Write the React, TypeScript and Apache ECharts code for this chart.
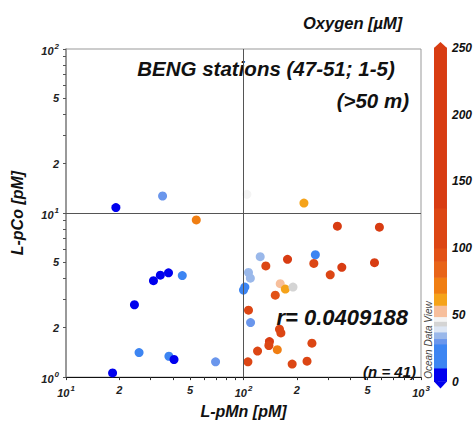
import React, { useEffect, useRef } from 'react';
import * as echarts from 'echarts';

// L-pMn [pM], L-pCo [pM], Oxygen [µM] per sample
const lpMn = [19.1, 35.0, 54.2, 31.1, 34.0, 37.8, 45.2, 24.3, 25.8, 38.0, 40.6, 69.6, 18.3,
  104.5, 124.2, 106.7, 109.3, 101.8, 100.0, 106.7, 109.6, 120, 105.9,
  338, 583, 254, 177, 133.6, 249, 358, 547, 308, 161, 172, 190, 151,
  159.5, 162.4, 140, 139, 243, 155, 228, 188, 219];
const lpCo = [10.8, 12.7, 9.08, 3.87, 4.18, 4.32, 4.16, 2.76, 1.41, 1.34, 1.28, 1.24, 1.06,
  13.0, 5.42, 4.34, 4.01, 3.54, 3.39, 2.56, 2.15, 1.44, 1.24,
  8.32, 8.2, 5.57, 5.22, 4.76, 4.93, 4.67, 4.98, 4.20, 3.71, 3.44, 3.54, 3.16,
  1.96, 1.86, 1.646, 1.556, 1.61, 1.47, 1.25, 1.20, 11.5];
const oxygen = [5, 30, 70, 4, 6, 3, 20, 5, 22, 21, 7, 30, 2,
  46, 34, 35, 33, 18, 16, 120, 29, 110, 105,
  150, 140, 26, 130, 115, 125, 140, 135, 120, 52, 62, 43, 95,
  110, 120, 130, 115, 125, 68, 110, 120, 60];

// Oxygen colour scale (ODV-like)
const o2Edges = [0, 10, 28, 32, 37, 41.5, 45, 48.5, 57, 66, 78, 90, 100, 130, 250];
const o2Colors = ['#0000ee', '#3d85f2', '#6a96ec', '#9ab8ea', '#dde6f4', '#d4d4d4', '#f4f4f4',
  '#f7bf9c', '#f5a31a', '#f07e12', '#e86418', '#e25216', '#dc4614', '#d83c12'];
const o2Ticks = [0, 50, 100, 150, 200, 250];

// log axes: decades and minor multipliers
const xDecades = [1, 2, 3];
const yDecades = [0, 1, 2];
const labelMultipliers = [1, 2, 5];
const tickMultipliers = [1, 2, 3, 4, 5, 6, 7, 8, 9];
const crossMn = 100;
const crossCo = 10;

const FONT = 'Liberation Sans, Arial, sans-serif';

function logValues(decades: number[], mults: number[]) {
  const out: number[] = [];
  const maxD = decades[decades.length - 1];
  decades.forEach((d) => {
    mults.forEach((m) => {
      const v = d + Math.log10(m);
      if (v <= maxD + 1e-9) out.push(v);
    });
  });
  return out;
}

function logFormatter(v: number) {
  const d = Math.floor(v + 1e-6);
  const m = Math.round(Math.pow(10, v - d));
  if (m === 1) return '{b|10}{s|' + d + '}';
  return '{b|' + m + '}';
}

const rich = {
  b: { fontSize: 11, fontWeight: 'bold', fontStyle: 'italic', color: '#222', fontFamily: FONT, verticalAlign: 'bottom' },
  s: { fontSize: 8, fontWeight: 'bold', fontStyle: 'italic', color: '#222', fontFamily: FONT, verticalAlign: 'bottom', padding: [0, 0, 6, 1] },
};

export default function App() {
  const ref = useRef<HTMLDivElement>(null);
  useEffect(() => {
    document.body.style.margin = '0';
    const chart = echarts.init(ref.current!, null, { renderer: 'svg' });
    const pts = lpMn.map((x, i) => [Math.log10(x), Math.log10(lpCo[i]), oxygen[i]]);
    const bands = o2Colors.map((c, i) => [o2Edges[i], o2Edges[i + 1], i]);
    const pieces = o2Colors.map((c, i) => (i === o2Colors.length - 1
      ? { gte: o2Edges[i], lte: o2Edges[i + 1], color: c }
      : { gte: o2Edges[i], lt: o2Edges[i + 1], color: c }));

    const textStyle = (size: number, weight = 'bold') => ({
      fontFamily: FONT, fontSize: size, fontWeight: weight, fontStyle: 'italic', fill: '#111',
    });

    chart.setOption({
      animation: false,
      backgroundColor: '#fff',
      grid: [
        { left: 66, top: 49, right: 54, bottom: 42, show: true, borderColor: '#999', borderWidth: 1 },
        { left: 434, top: 48, width: 15, bottom: 42.5 },
      ],
      xAxis: [
        {
          type: 'value', gridIndex: 0, min: 1, max: 3,
          axisLine: { show: true, onZero: false, lineStyle: { color: '#111', width: 1 } },
          axisTick: { show: true, customValues: logValues(xDecades, tickMultipliers), length: 3, lineStyle: { color: '#333' } },
          axisLabel: { customValues: logValues(xDecades, labelMultipliers), formatter: logFormatter, rich, margin: 7 },
          splitLine: { show: false },
          name: 'L-pMn [pM]', nameLocation: 'middle', nameGap: 25,
          nameTextStyle: { fontFamily: FONT, fontSize: 16, fontWeight: 'bold', fontStyle: 'italic', color: '#111' },
        },
        { type: 'value', gridIndex: 1, min: 0, max: 1, show: false },
      ],
      yAxis: [
        {
          type: 'value', gridIndex: 0, min: 0, max: 2,
          axisLine: { show: true, onZero: false, lineStyle: { color: '#888', width: 1.5 } },
          axisTick: { show: true, customValues: logValues(yDecades, tickMultipliers), length: 3, lineStyle: { color: '#555' } },
          axisLabel: { customValues: logValues(yDecades, labelMultipliers), formatter: logFormatter, rich, margin: 7 },
          splitLine: { show: false },
          name: 'L-pCo [pM]', nameLocation: 'middle', nameGap: 41, nameRotate: 90,
          nameTextStyle: { fontFamily: FONT, fontSize: 16, fontWeight: 'bold', fontStyle: 'italic', color: '#111' },
        },
        {
          type: 'value', gridIndex: 1, min: 0, max: 250, interval: 50, position: 'right',
          axisLine: { show: false },
          axisTick: { show: true, length: 4, lineStyle: { color: '#333' } },
          axisLabel: { margin: 5, fontFamily: FONT, fontSize: 12, fontWeight: 'bold', fontStyle: 'italic', color: '#111',
            customValues: o2Ticks },
          splitLine: { show: false },
        },
      ],
      visualMap: {
        type: 'piecewise', show: false, seriesIndex: 0, dimension: 2, pieces,
      },
      series: [
        {
          type: 'scatter', xAxisIndex: 0, yAxisIndex: 0, data: pts, symbolSize: 9,
          itemStyle: { opacity: 1 },
          markLine: {
            silent: true, symbol: 'none', label: { show: false },
            lineStyle: { color: '#555', width: 1, type: 'solid' },
            data: [{ xAxis: Math.log10(crossMn) }, { yAxis: Math.log10(crossCo) }],
          },
          z: 3,
        },
        {
          type: 'custom', xAxisIndex: 1, yAxisIndex: 1, data: bands, clip: false,
          renderItem: (params: any, api: any) => {
            const lo = api.value(0);
            const hi = api.value(1);
            const i = api.value(2);
            const p0 = api.coord([0, lo]);
            const p1 = api.coord([1, hi]);
            const color = o2Colors[i];
            const children: any[] = [{
              type: 'rect',
              shape: { x: p0[0], y: p1[1] - 0.3, width: p1[0] - p0[0], height: p0[1] - p1[1] + 0.6 },
              style: { fill: color },
            }];
            const mid = (p0[0] + p1[0]) / 2;
            if (i === 0) {
              children.push({ type: 'polygon', shape: { points: [[p0[0], p0[1]], [p1[0], p0[1]], [mid, p0[1] + 7]] }, style: { fill: color } });
            }
            if (i === o2Colors.length - 1) {
              children.push({ type: 'polygon', shape: { points: [[p0[0], p1[1]], [p1[0], p1[1]], [mid, p1[1] - 6]] }, style: { fill: color } });
            }
            return { type: 'group', children };
          },
        },
      ],
      graphic: [
        { type: 'text', left: 303, top: 14, style: { text: 'Oxygen [µM]', ...textStyle(16.5) } },
        { type: 'text', x: 266, y: 68, style: { text: 'BENG stations (47-51; 1-5)', textAlign: 'center', textVerticalAlign: 'middle', ...textStyle(20.5) } },
        { type: 'text', x: 409, y: 100, style: { text: '(>50 m)', textAlign: 'right', textVerticalAlign: 'middle', ...textStyle(20.5) } },
        { type: 'text', x: 408, y: 317, style: { text: 'r= 0.0409188', textAlign: 'right', textVerticalAlign: 'middle', ...textStyle(22) } },
        { type: 'text', x: 416, y: 371, style: { text: '(n = 41)', textAlign: 'right', textVerticalAlign: 'middle', ...textStyle(15) } },
        { type: 'text', x: 428, y: 340, rotation: Math.PI / 2, style: { text: 'Ocean Data View', textAlign: 'center', textVerticalAlign: 'middle', fontFamily: FONT, fontSize: 10, fontStyle: 'italic', fill: '#444' } },
      ],
    });
    return () => chart.dispose();
  }, []);
  return <div ref={ref} style={{ width: 475, height: 424 }} />;
}
